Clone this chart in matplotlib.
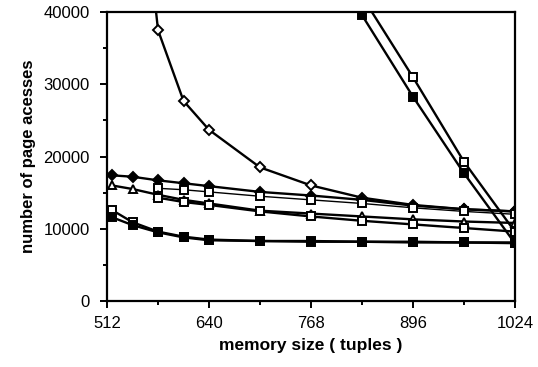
import matplotlib.pyplot as plt

plt.rcParams['font.family'] = ['Liberation Sans', 'DejaVu Sans']

# memory sizes (tuples)
mem_all = [518, 544, 576, 608, 640, 704, 768, 832, 896, 960, 1024]
mem_from_576 = [576, 608, 640, 704, 768, 832, 896, 960, 1024]

# steep open-diamond curve (first point is off the top)
od_x = [544, 576, 608, 640, 704, 768, 832, 896, 960, 1024]
od_y = [70000, 37500, 27700, 23700, 18500, 16000, 14300, 13300, 12700, 12400]

fd_y = [17400, 17200, 16700, 16300, 15900, 15100, 14600, 14000, 13200, 12700, 12400]
sq_hi_y = [15600, 15400, 15100, 14500, 14000, 13500, 12900, 12400, 12000]
tri_y = [16000, 15500, 14700, 14000, 13500, 12500, 12100, 11700, 11300, 11000, 10800]
sq_lo_y = [14300, 13700, 13300, 12400, 11700, 11100, 10600, 10100, 9600]
fs_y = [11600, 10500, 9500, 8800, 8400, 8300, 8200, 8200, 8100, 8100, 8000]
xs_y = [12600, 10900, 9600, 8900, 8500, 8300, 8300, 8200, 8200, 8100, 8100]

# steep square curves on the right
steep_fs_x = [768, 832, 896, 960, 1024]
steep_fs_y = [51000, 39600, 28300, 17700, 8000]
steep_os_x = [832, 896, 960, 1024]
steep_os_y = [42200, 31000, 19300, 9600]

fig = plt.figure(figsize=(5.38, 3.67), dpi=100)
ax = fig.add_axes([0.199, 0.18, 0.758, 0.787])

k = dict(color='black', linewidth=1.7, markeredgewidth=1.4)
ax.plot(od_x, od_y, marker='D', markerfacecolor='white', markersize=5, **k)
ax.plot(mem_all, fd_y, marker='D', markerfacecolor='black', markersize=5, **k)
ax.plot(mem_from_576, sq_hi_y, marker='s', markerfacecolor='white', color='black',
        linewidth=1.0, markersize=5.5, markeredgewidth=1.4)
ax.plot(mem_all, tri_y, marker='^', markerfacecolor='white', markersize=6, **k)
ax.plot(mem_from_576, sq_lo_y, marker='s', markerfacecolor='white', markersize=5.5, **k)
ax.plot(mem_all, xs_y, marker='s', markerfacecolor='white', markersize=5.5, **k)
ax.plot(mem_all, fs_y, marker='s', markerfacecolor='black', markersize=5.5, **k)
ax.plot(steep_fs_x, steep_fs_y, marker='s', markerfacecolor='black', markersize=5.5, **k)
ax.plot(steep_os_x, steep_os_y, marker='s', markerfacecolor='white', markersize=5.5, **k)

ax.set_xlim(512, 1024)
ax.set_ylim(0, 40000)
ax.set_xticks([512, 640, 768, 896, 1024])
ax.set_xticks([576, 704, 832, 960], minor=True)
ax.set_yticks([0, 10000, 20000, 30000, 40000])
ax.set_yticks([5000, 15000, 25000, 35000], minor=True)
ax.tick_params(which='major', direction='out', length=5, width=1.4, labelsize=12)
ax.tick_params(which='minor', direction='out', length=3, width=1.4)
ax.tick_params(axis='y', which='major', pad=7.5)
ax.tick_params(axis='x', which='major', pad=6)
for s in ax.spines.values():
    s.set_linewidth(1.6)

ax.set_xlabel('memory size ( tuples )', fontsize=12.5, fontweight='bold', labelpad=5)
ax.set_ylabel('number of page acesses', fontsize=12, fontweight='bold', labelpad=5)

fig.savefig('out.png', dpi=100)
